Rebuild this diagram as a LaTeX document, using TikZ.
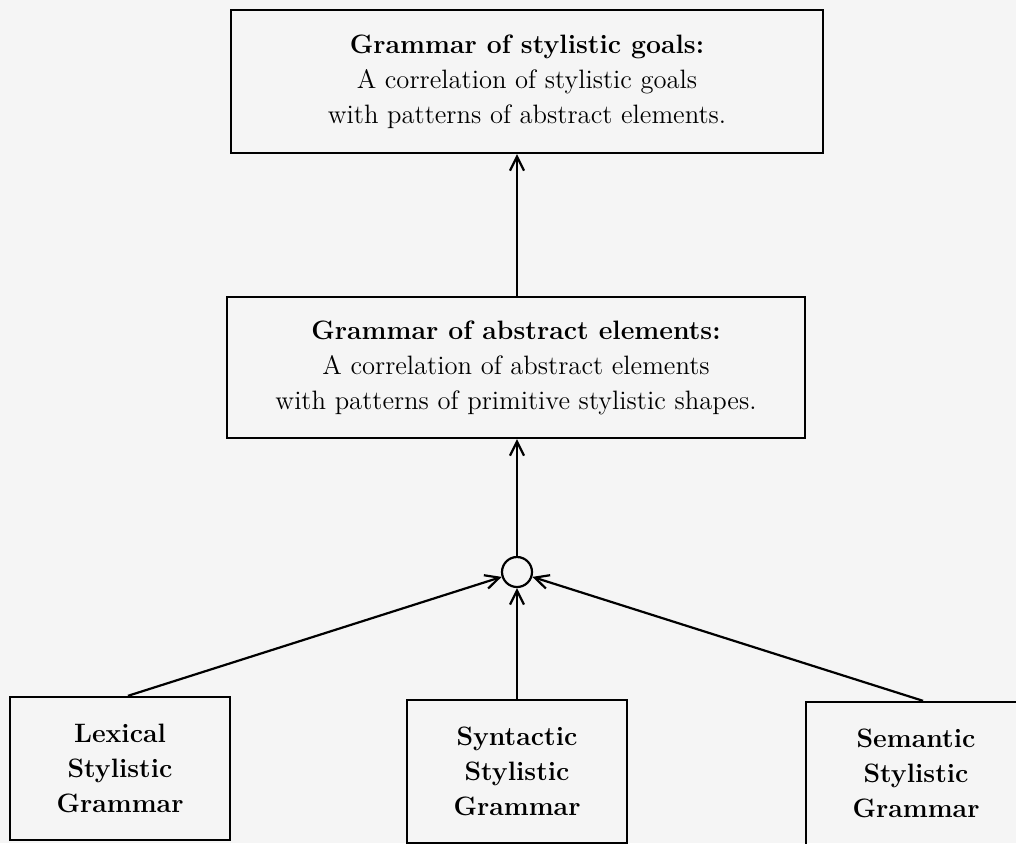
\documentclass[tikz,border=0pt]{standalone}
\usetikzlibrary{arrows.meta}
\begin{document}
\begin{tikzpicture}[x=0.5pt,y=-0.5pt,
  box/.style={draw,line width=1.2pt,inner sep=0pt,align=center,font=\fontsize{13.3}{17.5}\selectfont},
  sbox/.style={box,minimum width=110pt,minimum height=71.5pt,font=\fontsize{13.3}{17.5}\selectfont\bfseries},
  joint/.style={draw,circle,line width=1.1pt,minimum size=15pt,inner sep=0pt},
  arr/.style={line width=1.1pt,-{Straight Barb[length=7pt,width=7pt,line width=1.1pt]}}]
\fill[black!4] (0,0) rectangle (1016,843);
\useasboundingbox (0,0) rectangle (1016,843);
\clip (0,0) rectangle (1016,843);

\node[box,minimum width=296pt,minimum height=71.5pt] (goals) at (527,81.5)
  {\textbf{Grammar of stylistic goals:}\\A correlation of stylistic goals\\with patterns of abstract elements.};
\node[box,minimum width=289pt,minimum height=70.5pt] (abs) at (516,367.5)
  {\textbf{Grammar of abstract elements:}\\A correlation of abstract elements\\with patterns of primitive stylistic shapes.};
\node[joint] (join) at (517,572) {};
\node[sbox] (lex) at (120,768.5) {Lexical\\Stylistic\\Grammar};
\node[sbox] (syn) at (517,771.5) {Syntactic\\Stylistic\\Grammar};
\node[sbox] (sem) at (916,773.5) {Semantic\\Stylistic\\Grammar};

\draw[arr] ([xshift=4pt]lex.north) -- (join);
\draw[arr] ([xshift=3.5pt]sem.north) -- (join);
\draw[arr] (syn.north -| join) -- (join.south);
\draw[arr] (join.north) -- (join.north |- abs.south);
\draw[arr] (abs.north -| join) -- (goals.south -| join);
\end{tikzpicture}
\end{document}
